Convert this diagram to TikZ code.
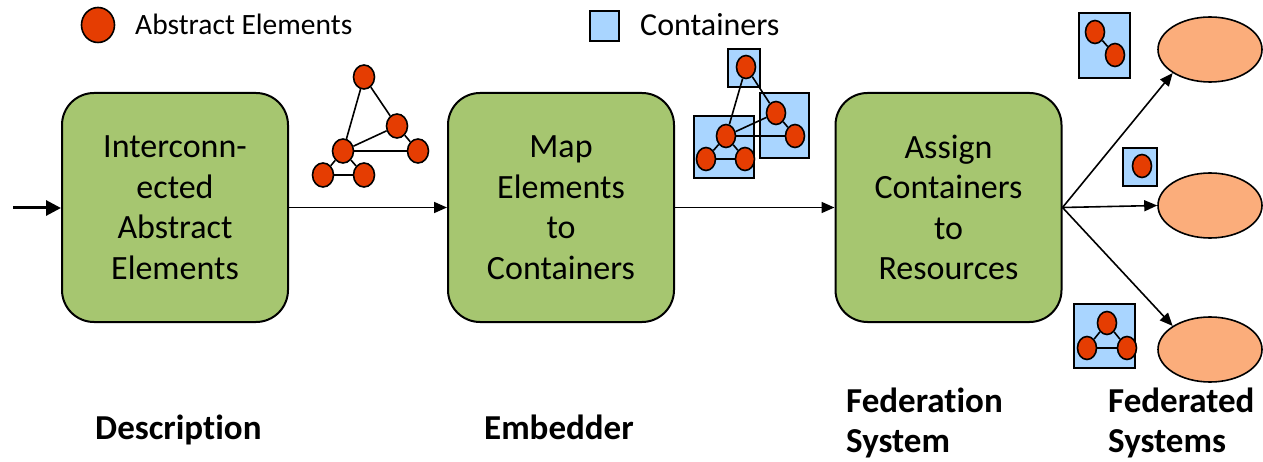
\documentclass[tikz,border=0pt]{standalone}
\usepackage{fontspec}
\setmainfont[RawFeature=-liga]{Carlito}
\usetikzlibrary{arrows.meta,shapes.geometric}
\definecolor{boxgreen}{HTML}{A6C670}
\definecolor{elemred}{HTML}{E53D02}
\definecolor{contblue}{HTML}{A9D5FF}
\definecolor{sysorange}{HTML}{FBAD7B}
\tikzset{
  stage/.style={draw=black, line width=2pt, fill=boxgreen, rounded corners=32pt,
    minimum width=226pt, minimum height=229pt, align=center,
    font=\fontsize{34}{40.5}\selectfont},
  elem/.style={ellipse, draw=black, line width=1.6pt, fill=elemred, inner sep=0pt,
    minimum width=21pt, minimum height=24pt},
  elemsm/.style={elem, minimum width=19pt, minimum height=23pt},
  cont/.style={draw=black, line width=1.6pt, fill=contblue, inner sep=0pt},
  sys/.style={ellipse, draw=black, line width=1.6pt, fill=sysorange, inner sep=0pt,
    minimum width=104pt, minimum height=65pt},
  link/.style={line width=1.6pt, draw=black},
  flow/.style={line width=1.6pt, -{Triangle[length=13pt,width=11pt]}},
  caption/.style={font=\fontsize{35}{40}\selectfont\bfseries, inner sep=0pt, align=left}
}
\begin{document}
\begin{tikzpicture}[x=1pt, y=-1pt]
\useasboundingbox (0,0) rectangle (1263,462);

% legend
\node[elem, minimum width=33pt, minimum height=35pt] (legE) at (98,25) {};
\node[anchor=base west, inner sep=0pt, font=\fontsize{29.5}{34}\selectfont] (legEt) at (135,35) {Abstract Elements};
\node[cont, minimum width=29pt, minimum height=30pt] (legC) at (604.5,26) {};
\node[anchor=base west, inner sep=0pt, font=\fontsize{32}{38}\selectfont] (legCt) at (640,36) {Containers};

% processing stages
\node[stage] (b1) at (175,207.5) {Interconn-\\ected\\Abstract\\Elements};
\node[stage] (b2) at (561,207.5) {Map\\Elements\\to\\Containers};
\node[stage] (b3) at (948.5,207.5) {Assign\\Containers\\to\\Resources};

\coordinate (in) at (13,208);
\draw[line width=3pt, -{Triangle[length=15pt,width=15pt]}] (in) -- (b1.west |- in);
\draw[flow] (b1) -- (b2);
\draw[flow] (b2) -- (b3);

% abstract element graph
\node[elem] (a1) at (364,77) {};
\node[elem] (a2) at (397,126) {};
\node[elem] (a3) at (343,151) {};
\node[elem] (a4) at (418,151) {};
\node[elem] (a5) at (323,175) {};
\node[elem] (a6) at (364,175) {};
\draw[link] (a1) -- (a3);
\draw[link] (a1) -- (a2);
\draw[link] (a2) -- (a3);
\draw[link] (a2) -- (a4);
\draw[link] (a3) -- (a4);
\draw[link] (a3) -- (a5);
\draw[link] (a3) -- (a6);
\draw[link] (a5) -- (a6);

% elements mapped into containers
\node[cont, minimum width=32pt, minimum height=38pt] (c1) at (744,68) {};
\node[cont, minimum width=49pt, minimum height=65pt] (c2) at (784.5,125.5) {};
\node[cont, minimum width=60pt, minimum height=62pt] (c3) at (724,147) {};
\node[elemsm] (m1) at (746,67) {};
\node[elemsm] (m2) at (776,113) {};
\node[elemsm] (m3) at (726,136) {};
\node[elemsm] (m4) at (795,136) {};
\node[elemsm] (m5) at (706,159) {};
\node[elemsm] (m6) at (745,159) {};
\draw[link] (m1) -- (m3);
\draw[link] (m1) -- (m2);
\draw[link] (m2) -- (m3);
\draw[link] (m2) -- (m4);
\draw[link] (m3) -- (m4);
\draw[link] (m3) -- (m5);
\draw[link] (m3) -- (m6);
\draw[link] (m5) -- (m6);

% federated systems
\node[sys] (s1) at (1210,49.5) {};
\node[sys] (s2) at (1210,205.5) {};
\node[sys] (s3) at (1210,349.5) {};
\draw[flow] (b3.east) -- (s1.south west);
\draw[flow] (b3.east) -- (s2.west);
\draw[flow] (b3.east) -- (s3.north west);

% containers assigned to each system
\node[cont, minimum width=51pt, minimum height=65pt] (k1) at (1104.5,45.5) {};
\node[elemsm] (k1a) at (1095,32) {};
\node[elemsm] (k1b) at (1115,55) {};
\draw[link] (k1a) -- (k1b);

\node[cont, minimum width=34pt, minimum height=38pt] (k2) at (1140,167) {};
\node[elemsm] (k2a) at (1142,166) {};

\node[cont, minimum width=61pt, minimum height=64pt] (k3) at (1104.5,336) {};
\node[elemsm] (k3a) at (1107,323) {};
\node[elemsm] (k3b) at (1087,348) {};
\node[elemsm] (k3c) at (1127,348) {};
\draw[link] (k3a) -- (k3b);
\draw[link] (k3a) -- (k3c);
\draw[link] (k3b) -- (k3c);

% stage captions
\node[caption, anchor=base west] (d1) at (95,439) {Description};
\node[caption, anchor=base west] (d2) at (484,439) {Embedder};
\node[caption, anchor=north west] (d3) at (846,388) {Federation\\System};
\node[caption, anchor=north west] (d4) at (1108,388) {Federated\\Systems};
\end{tikzpicture}
\end{document}
